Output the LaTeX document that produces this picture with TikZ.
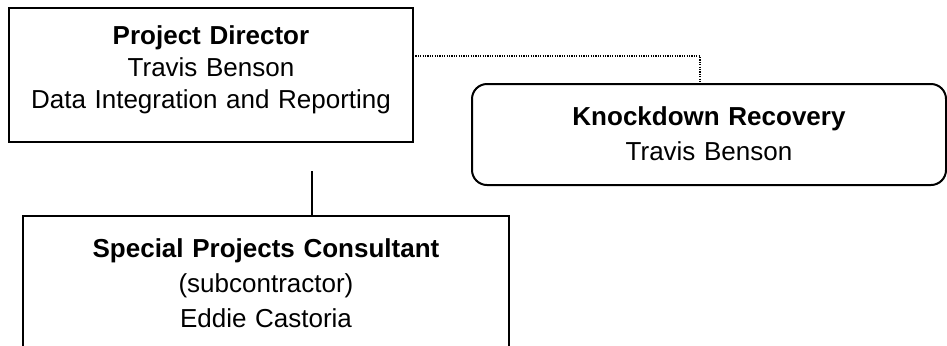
\documentclass[tikz,border=0pt]{standalone}
\usepackage{fontspec}
\setmainfont{Liberation Sans}
\usepackage{tikz}

\tikzset{
  unit/.style={draw,line width=1pt,outer sep=0pt,inner sep=0pt,align=center,anchor=north west,
    font=\fontsize{13}{17.5}\selectfont},
  link/.style={line width=0.6pt,dash pattern=on 0.6pt off 0.6pt},
  tie/.style={line width=1pt}
}

\begin{document}
\begin{tikzpicture}[x=0.5pt,y=-0.5pt]
\clip (0,0) rectangle (947,345);

\node[unit,font=\fontsize{13}{16}\selectfont,text width=202pt,text height=18pt,text depth=49pt] (PD) at (9,8)
     {\textbf{Project Director}\\Travis Benson\\Data Integration and Reporting};
\node[unit,rounded corners=7.5pt,text width=237pt,text height=20.5pt,text depth=30pt] (KR) at (472,84)
     {\textbf{Knockdown Recovery}\\Travis Benson};
\node[unit,text width=243pt,text height=20.5pt,text depth=57pt] (SPC) at (23,216)
     {\textbf{Special Projects Consultant}\\(subcontractor)\\Eddie Castoria};

\coordinate (SPCup) at ([xshift=23pt,yshift=22.5pt]SPC.north);
\draw[tie] (SPCup) -- ([xshift=23pt]SPC.north);

\draw[link] ([yshift=-24pt]PD.north east) -| ([xshift=-4.5pt]KR.north);
\end{tikzpicture}
\end{document}
